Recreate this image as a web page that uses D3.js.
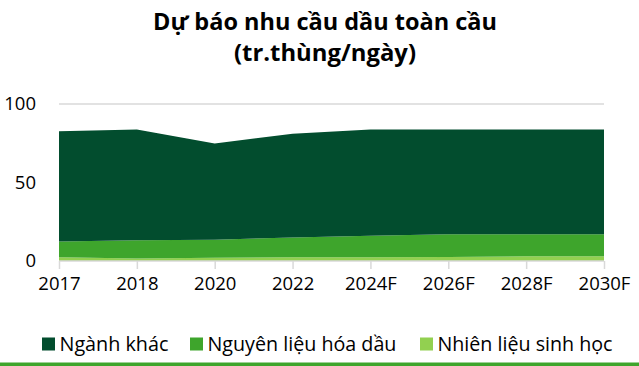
<!DOCTYPE html>
<html>
<head>
<meta charset="utf-8">
<script src="https://cdn.jsdelivr.net/npm/d3@7"></script>
<style>
  html, body { margin: 0; padding: 0; background: #fff; }
  svg { display: block; }
  text { font-family: "Open Sans", "Noto Sans", sans-serif; fill: #000; }
</style>
</head>
<body>
<svg id="chart" width="639" height="366"></svg>
<script>
const categories = ["2017", "2018", "2020", "2022", "2024F", "2026F", "2028F", "2030F"];
const seriesNames = ["Nhiên liệu sinh học", "Nguyên liệu hóa dầu", "Ngành khác"];
const bioFuel      = [2.4, 1.6, 2.0, 2.4, 2.4, 2.6, 3.0, 3.0];
const petrochem    = [10.1, 11.6, 11.6, 12.5, 13.7, 14.5, 14.1, 14.1];
const otherSectors = [70.1, 70.5, 61.2, 66.2, 67.6, 66.6, 66.6, 66.6];
const yTicks = [0, 50, 100];
const titleLines = ["Dự báo nhu cầu dầu toàn cầu", "(tr.thùng/ngày)"];
const legendOrder = ["Ngành khác", "Nguyên liệu hóa dầu", "Nhiên liệu sinh học"];
const colors = {
  "Ngành khác": "#024d2e",
  "Nguyên liệu hóa dầu": "#3ea52c",
  "Nhiên liệu sinh học": "#92d050"
};

const svg = d3.select("#chart");
const W = 639, H = 366;
const plotLeft = 59, plotRight = 604, plotTop = 104, plotBottom = 261;

const rows = categories.map((c, i) => ({
  cat: c,
  "Nhiên liệu sinh học": bioFuel[i],
  "Nguyên liệu hóa dầu": petrochem[i],
  "Ngành khác": otherSectors[i]
}));

const x = d3.scalePoint().domain(categories).range([plotLeft, plotRight]);
const y = d3.scaleLinear().domain([0, 100]).range([plotBottom, plotTop]);

// fit a text element's font size to a target width
function fitWidth(sel, target) {
  sel.each(function() {
    const el = d3.select(this);
    const fs = parseFloat(el.style("font-size"));
    const w = this.getComputedTextLength();
    if (w > 0) el.style("font-size", (fs * target / w).toFixed(2) + "px");
  });
}

// Title
const titleTargets = [344, 182];
const tl = svg.append("g").selectAll("text").data(titleLines).join("text")
  .attr("x", 325).attr("y", (d, i) => 30 + i * 31)
  .attr("text-anchor", "middle")
  .style("font-weight", "bold").style("font-size", "20px")
  .text(d => d);
tl.each(function(d, i) { fitWidth(d3.select(this), titleTargets[i]); });

// gridlines
svg.append("g").selectAll("line").data(yTicks.filter(t => t > 0)).join("line")
  .attr("x1", plotLeft).attr("x2", plotRight)
  .attr("y1", d => y(d)).attr("y2", d => y(d))
  .attr("stroke", "#d9d9d9").attr("stroke-width", 1.5);

// stacked areas
const stack = d3.stack().keys(seriesNames);
const layers = stack(rows);
const area = d3.area()
  .x(d => x(d.data.cat))
  .y0(d => y(d[0]))
  .y1(d => y(d[1]));
svg.append("g").selectAll("path").data(layers).join("path")
  .attr("d", area)
  .attr("fill", d => colors[d.key]);

// x axis
const xAxis = d3.axisBottom(x).tickSize(8).tickPadding(8);
const gx = svg.append("g").attr("transform", `translate(0,${plotBottom})`).call(xAxis);
gx.select(".domain").attr("stroke", "#d9d9d9").attr("stroke-width", 1.5).attr("d", `M${plotLeft},0H${plotRight}`);
gx.selectAll(".tick line").attr("stroke", "#d9d9d9").attr("stroke-width", 1.5);
gx.selectAll(".tick text").style("font-size", "18.5px").attr("fill", "#000")
  .style("font-family", '"Open Sans", "Noto Sans", sans-serif');

// y axis
const yAxis = d3.axisLeft(y).tickValues(yTicks).tickSize(0).tickPadding(0);
const gy = svg.append("g").attr("transform", `translate(36,0)`).call(yAxis);
gy.select(".domain").remove();
gy.selectAll(".tick text").style("font-size", "18.5px").attr("fill", "#000")
  .style("font-family", '"Open Sans", "Noto Sans", sans-serif');

// legend
const legendX = [42, 190, 420];
const legendTargets = [109, 189, 175];
const lg = svg.append("g").selectAll("g").data(legendOrder).join("g")
  .attr("transform", (d, i) => `translate(${legendX[i]},0)`);
lg.append("rect").attr("x", 0).attr("y", 337.5).attr("width", 13).attr("height", 13)
  .attr("fill", d => colors[d]);
lg.append("text").attr("x", 17.5).attr("y", 351).style("font-size", "18px").text(d => d)
  .each(function(d, i) { fitWidth(d3.select(this), legendTargets[i]); });

// bottom border line
svg.append("rect").attr("x", 0).attr("y", 362.5).attr("width", W).attr("height", 4)
  .attr("fill", "#3ea52c");
</script>
</body>
</html>
